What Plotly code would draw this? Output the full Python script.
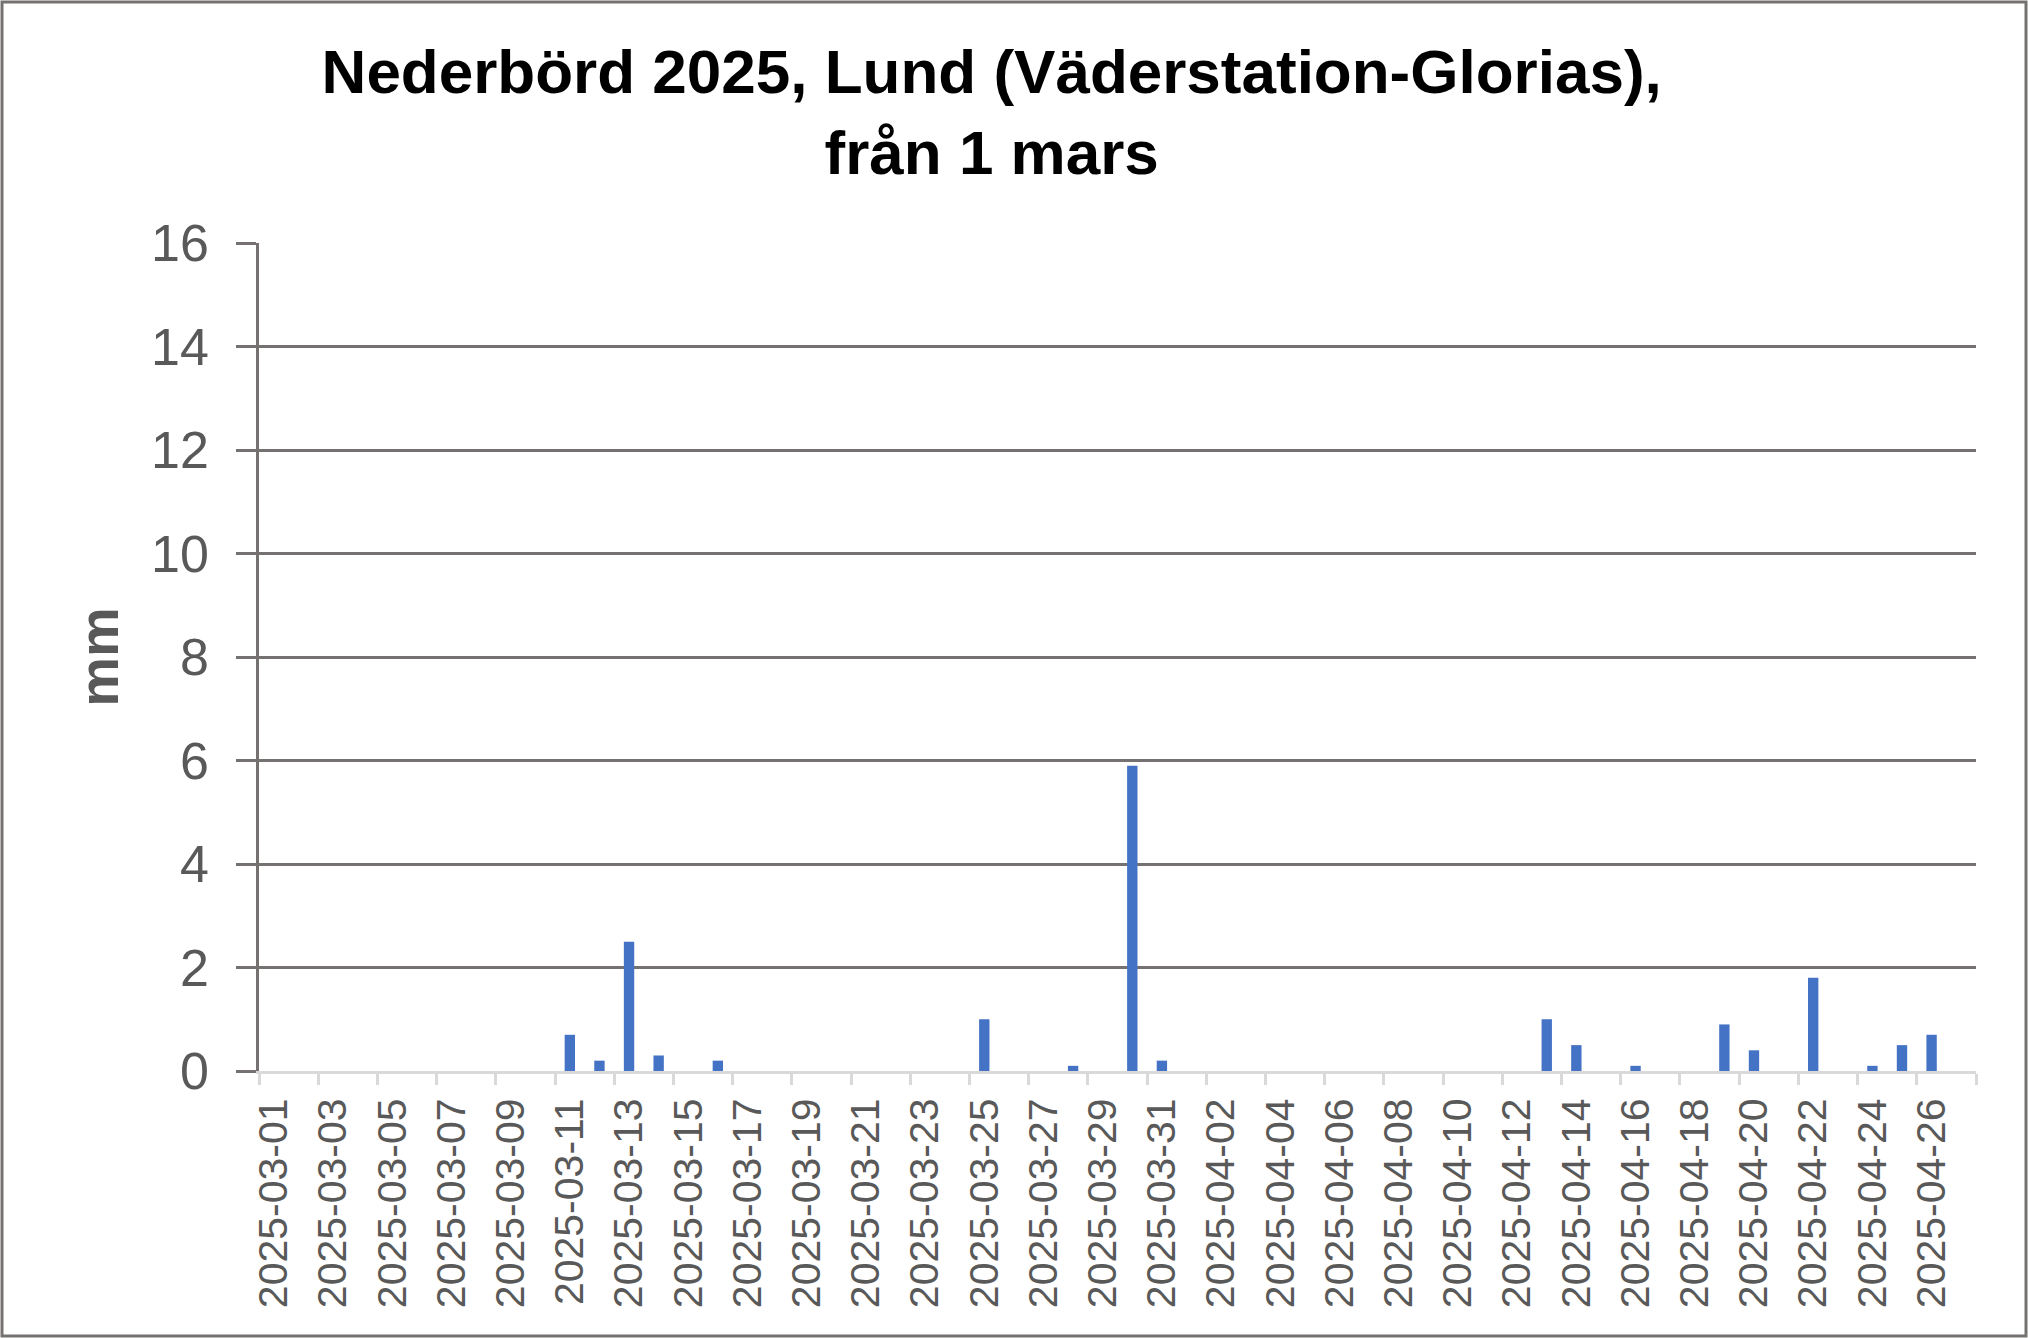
import plotly.graph_objects as go

dates = [
    "2025-03-01", "2025-03-02", "2025-03-03", "2025-03-04", "2025-03-05", "2025-03-06",
    "2025-03-07", "2025-03-08", "2025-03-09", "2025-03-10", "2025-03-11", "2025-03-12",
    "2025-03-13", "2025-03-14", "2025-03-15", "2025-03-16", "2025-03-17", "2025-03-18",
    "2025-03-19", "2025-03-20", "2025-03-21", "2025-03-22", "2025-03-23", "2025-03-24",
    "2025-03-25", "2025-03-26", "2025-03-27", "2025-03-28", "2025-03-29", "2025-03-30",
    "2025-03-31", "2025-04-01", "2025-04-02", "2025-04-03", "2025-04-04", "2025-04-05",
    "2025-04-06", "2025-04-07", "2025-04-08", "2025-04-09", "2025-04-10", "2025-04-11",
    "2025-04-12", "2025-04-13", "2025-04-14", "2025-04-15", "2025-04-16", "2025-04-17",
    "2025-04-18", "2025-04-19", "2025-04-20", "2025-04-21", "2025-04-22", "2025-04-23",
    "2025-04-24", "2025-04-25", "2025-04-26", "2025-04-27",
]

precip_mm = [
    0, 0, 0, 0, 0, 0, 0, 0, 0, 0, 0.7, 0.2,
    2.5, 0.3, 0, 0.2, 0, 0, 0, 0, 0, 0, 0, 0,
    1.0, 0, 0, 0.1, 0, 5.9, 0.2, 0, 0, 0, 0, 0,
    0, 0, 0, 0, 0, 0, 0, 1.0, 0.5, 0, 0.1, 0,
    0, 0.9, 0.4, 0, 1.8, 0, 0.1, 0.5, 0.7, 0,
]

tick_labels = dates[::2]
x_start = "2025-02-28 12:00"
x_end = "2025-04-27 12:00"
DAY_MS = 86400000

FONT = "Liberation Sans, Arial, sans-serif"
GRID = "#767171"
LIGHT = "#d9d9d9"
TXT = "#595959"

fig = go.Figure()
fig.add_trace(go.Bar(x=dates, y=precip_mm, marker=dict(color="#4472C4", line=dict(width=0))))

W, H = 2028, 1338
ml, mr, mt, mb = 259, 52, 243, 267
pw, ph = W - ml - mr, H - mt - mb

fig.update_layout(
    width=W, height=H,
    margin=dict(l=ml, r=mr, t=mt, b=mb),
    paper_bgcolor="white", plot_bgcolor="white",
    bargap=0.65,
    showlegend=False,
    title=dict(
        text="Nederbörd 2025, Lund (Väderstation-Glorias),<br>från 1 mars",
        font=dict(family=FONT, size=62, color="black", weight="bold"),
        x=0.489, xanchor="center", xref="container",
        y=1 - 93 / H, yanchor="middle", yref="container",
    ),
    xaxis=dict(
        type="date",
        range=[x_start, x_end],
        tickmode="array", tickvals=tick_labels, ticktext=tick_labels,
        tickangle=-90,
        tickfont=dict(family=FONT, size=41, color=TXT),
        ticks="outside", ticklen=2, tickwidth=3, tickcolor="rgba(0,0,0,0)",
        minor=dict(ticks="outside", tick0=x_start, dtick=2 * DAY_MS,
                   ticklen=11, tickwidth=3, tickcolor=LIGHT, showgrid=False),
        showline=True, linecolor=LIGHT, linewidth=3,
        showgrid=False, ticklabelstandoff=6,
    ),
    yaxis=dict(
        range=[0, 16], dtick=2, tick0=0,
        tickfont=dict(family=FONT, size=52, color=TXT),
        ticks="outside", ticklen=20, tickwidth=2.5, tickcolor=GRID,
        showline=True, linecolor=GRID, linewidth=2.5,
        showgrid=True, gridcolor=GRID, gridwidth=2.5,
        zeroline=False, ticklabelstandoff=17,
        title=dict(text="mm", font=dict(family=FONT, size=56, color=TXT, weight="bold"), standoff=15),
    ),
    shapes=[dict(
        type="rect", xref="paper", yref="paper", layer="above",
        x0=-(ml - 2) / pw, x1=1 + (mr - 2) / pw,
        y0=-(mb - 2) / ph, y1=1 + (mt - 2) / ph,
        line=dict(color=GRID, width=3), fillcolor="rgba(0,0,0,0)",
    )],
)

fig.write_html(
    "out.html",
    config={"displayModeBar": False},
    post_script="document.body.style.margin='0';document.body.style.overflow='hidden';",
)
